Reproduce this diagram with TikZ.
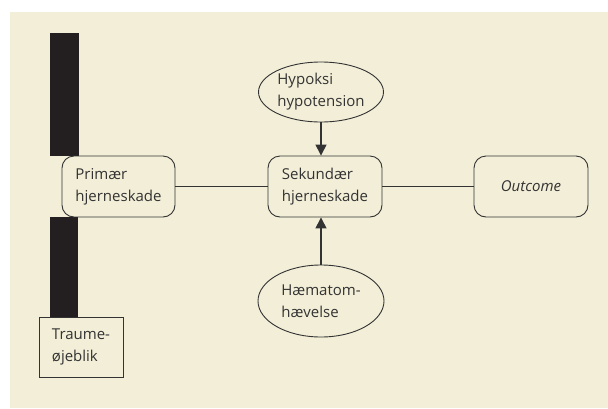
\documentclass[tikz,border=0pt]{standalone}
\usepackage{fontspec}
\setmainfont{Open Sans}
\usetikzlibrary{arrows.meta,shapes.geometric}
\definecolor{creambg}{HTML}{F2EED7}
\definecolor{barblack}{HTML}{231F20}
\definecolor{inkgray}{HTML}{333333}

\begin{document}
\begin{tikzpicture}[x=1pt,y=-1pt,
  box/.style={draw=inkgray,rounded corners=12pt,line width=0.9pt,minimum width=113pt,minimum height=61pt,align=left,inner sep=0pt,text=inkgray,font=\fontsize{15}{22}\selectfont},
  plainbox/.style={box,rounded corners=0pt},
  oval/.style={draw=inkgray,ellipse,line width=0.9pt,align=left,inner sep=0pt,text=inkgray,font=\fontsize{15}{22}\selectfont},
  link/.style={draw=inkgray,line width=0.9pt},
  push/.style={link,line width=1.4pt,-{Triangle[length=11pt,width=11pt]}}]
                                \fill[white] (0,0) rectangle (608,408);
                                \fill[creambg] (10,12) rectangle (608,408);
                                \fill[barblack] (50,33) rectangle (79,156);
                                \fill[barblack] (50,217) rectangle (78,317);

                                \node[box] (p1) at (118.5,186.5) {Primær\\hjerneskade};
                                \node[box,minimum width=114pt] (s1) at (325,186.5) {Sekundær\\hjerneskade};
                                \node[box,minimum width=114pt] (o1) at (531,186.5) {\itshape Outcome};
                                \node[plainbox,minimum width=84pt,minimum height=60pt] (t1) at (81,347) {Traume-\\øjeblik};

                                \node[oval,minimum width=125pt,minimum height=60pt] (h1) at (321,92) {Hypoksi\\hypotension};
                                \node[oval,minimum width=126pt,minimum height=72pt] (h2) at (321,301) {Hæmatom-\\hævelse};

                                \draw[link] (p1) -- (s1);
                                \draw[link] (s1) -- (o1);
                                \draw[push] (h1.south) -- (h1.south |- s1.north);
                                \draw[push] (h2.north) -- (h2.north |- s1.south);
                            \end{tikzpicture}
\end{document}
